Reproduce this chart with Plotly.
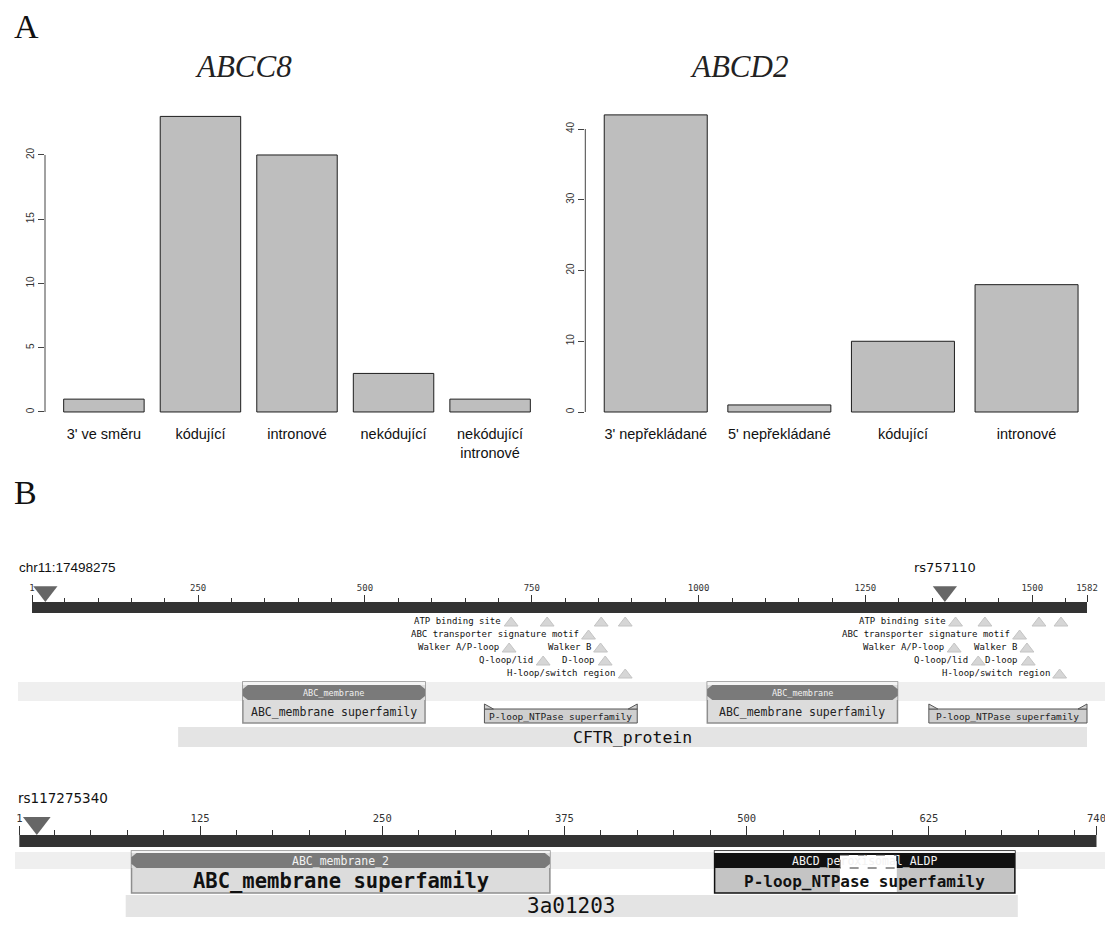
import plotly.graph_objects as go

W, H = 1105, 934

# ---------------- Panel A: SNP counts per functional class ----------------
abcc8_classes = ["3' ve směru", "kódující", "intronové", "nekódující", "nekódující<br>intronové"]
abcc8_counts = [1, 23, 20, 3, 1]
abcc8_yticks = [0, 5, 10, 15, 20]

abcd2_classes = ["3' nepřekládané", "5' nepřekládané", "kódující", "intronové"]
abcd2_counts = [42, 1, 10, 18]
abcd2_yticks = [0, 10, 20, 30, 40]

# ---------------- Panel B: conserved domains ----------------
# ABCC8 / CFTR-like protein, 1582 aa
cftr_length = 1582
cftr_major_ticks = [1, 250, 500, 750, 1000, 1250, 1500, 1582]
cftr_minor_ticks = [t for t in range(50, 1582, 50) if t % 250]
cftr_snp_labels = ["chr11:17498275", "rs757110"]
cftr_snp_pos = [21, 1369]

site_names = ["ATP binding site", "ABC transporter signature motif", "Walker A/P-loop",
              "Walker B", "Q-loop/lid", "D-loop", "H-loop/switch region"]
site_rows = [0, 1, 2, 2, 3, 3, 4]
nbd1_sites = [[719, 773, 854, 890], [835], [716], [853], [767], [860], [890]]
nbd2_sites = [[1385, 1429, 1510, 1543], [1481], [1383], [1492], [1419], [1494], [1541]]

cftr_specific = ["ABC_membrane", "ABC_membrane"]
cftr_specific_start = [317, 1013]
cftr_specific_end = [590, 1298]
cftr_specific_super = ["ABC_membrane superfamily", "ABC_membrane superfamily"]
cftr_ploop_label = "P-loop_NTPase superfamily"
cftr_ploop_start = [679, 1345]
cftr_ploop_end = [908, 1582]
cftr_multi = "CFTR_protein"
cftr_multi_start, cftr_multi_end = 220, 1582

# ABCD2, 740 aa
abcd_length = 740
abcd_major_ticks = [1, 125, 250, 375, 500, 625, 740]
abcd_minor_ticks = [t for t in range(25, 740, 25) if t % 125]
abcd_snp_label = "rs117275340"
abcd_snp_pos = 13
abcd_specific = ["ABC_membrane_2", "ABCD_peroxisomal_ALDP"]
abcd_specific_start = [78, 478]
abcd_specific_end = [365, 684]
abcd_specific_super = ["ABC_membrane superfamily", "P-loop_NTPase superfamily"]
abcd_gap = [564, 603]
abcd_multi = "3a01203"
abcd_multi_start, abcd_multi_end = 74, 686

SANS = "Liberation Sans, Arial, sans-serif"
SERIF = "Liberation Serif, Times New Roman, serif"
MONO = "DejaVu Sans Mono, monospace"

fig = go.Figure()
shapes, annots = [], []


def r_barplot_range(n):
    # barplot geometry: width 1, space 0.2, axis padded by 4 %
    lo, hi = -0.5 + 0.1 / 1.2, n - 0.5 - 0.1 / 1.2
    pad = 0.04 * (hi - lo)
    return [lo - pad, hi + pad]


def add_barplot(idx, classes, counts, yticks, xdom, ydom):
    xa, ya = ("x", "y") if idx == 1 else (f"x{idx}", f"y{idx}")
    fig.add_trace(go.Bar(x=classes, y=counts, xaxis=xa, yaxis=ya,
                         marker=dict(color="#bebebe", line=dict(color="#1e1e1e", width=1))))
    top = max(counts)
    key = "" if idx == 1 else str(idx)
    fig.layout["xaxis" + key] = dict(domain=xdom, anchor=ya, range=r_barplot_range(len(classes)),
                                     showgrid=False, zeroline=False, showline=False, ticks="",
                                     tickfont=dict(family=SANS, size=14.5, color="#111"),
                                     fixedrange=True)
    fig.layout["yaxis" + key] = dict(domain=ydom, anchor=xa, range=[-0.04 * top, 1.04 * top],
                                     tickvals=yticks, ticks="outside", ticklen=6, tickwidth=1,
                                     tickcolor="#444", tickangle=-90, showgrid=False,
                                     zeroline=False, showline=False,
                                     tickfont=dict(family=SANS, size=10, color="#333"))
    shapes.append(dict(type="line", xref=xa + " domain", yref=ya, x0=0, x1=0,
                       y0=yticks[0], y1=yticks[-1], line=dict(color="#444", width=1)))


add_barplot(1, abcc8_classes, abcc8_counts, abcc8_yticks,
            [45 / W, 549 / W], [1 - 423.8 / H, 1 - 104.6 / H])
add_barplot(2, abcd2_classes, abcd2_counts, abcd2_yticks,
            [585.3 / W, 1097 / W], [1 - 423.9 / H, 1 - 103 / H])

# panel letters and gene titles
annots += [
    dict(xref="paper", yref="paper", x=12 / W, y=1 - 27 / H, text="A", showarrow=False,
         xanchor="left", yanchor="middle", font=dict(family=SERIF, size=34, color="#111")),
    dict(xref="paper", yref="paper", x=12 / W, y=1 - 492 / H, text="B", showarrow=False,
         xanchor="left", yanchor="middle", font=dict(family=SERIF, size=34, color="#111")),
    dict(xref="paper", yref="paper", x=243 / W, y=1 - 67 / H, text="<i>ABCC8</i>",
         showarrow=False, xanchor="center", yanchor="middle",
         font=dict(family=SERIF, size=31, color="#222")),
    dict(xref="paper", yref="paper", x=739 / W, y=1 - 67 / H, text="<i>ABCD2</i>",
         showarrow=False, xanchor="center", yanchor="middle",
         font=dict(family=SERIF, size=31, color="#222")),
]


# ---------------- domain track helpers (y in page rows) ----------------
def ruler_range(first_px, last_px, length):
    k = (last_px - first_px) / (length - 1)
    return [1 - first_px / k, 1 + (W - first_px) / k]


def box(xr, x0, x1, y0, y1, fill, line=None, width=1.0, dash="solid"):
    shapes.append(dict(type="rect", xref=xr, yref="y3", x0=x0, x1=x1, y0=y0, y1=y1,
                       fillcolor=fill, layer="below",
                       line=dict(color=line or "rgba(0,0,0,0)", width=width if line else 0,
                                 dash=dash)))


def pix_path(xr, anchor, path, fill, line=None, width=1.0):
    shapes.append(dict(type="path", xref=xr, yref="y3", xsizemode="pixel", xanchor=anchor,
                       path=path, fillcolor=fill, layer="below",
                       line=dict(color=line or "rgba(0,0,0,0)", width=width if line else 0)))


def text(xr, x, y, s, size, color="#111", family=MONO, anchor="center", bold=False):
    annots.append(dict(xref=xr, yref="y3", x=x, y=y, text=f"<b>{s}</b>" if bold else s,
                       showarrow=False, xanchor=anchor, yanchor="middle",
                       font=dict(family=family, size=size, color=color)))


def rounded_ends(xr, s, e, y0, y1, bg):
    h = 4
    for a, sg in ((s, 1), (e, -1)):
        pix_path(xr, a, f"M0,{y0} L{5 * sg},{y0} L0,{y0 + h} Z", bg)
        pix_path(xr, a, f"M0,{y1} L{5 * sg},{y1} L0,{y1 - h} Z", bg)


# ---------------- track 1: CFTR-like protein ----------------
X1 = "x3"
T1 = dict(snp_label=567, bar=(602, 613), rows=[621, 634, 647, 660, 673], band=(682, 701),
          frame=(682, 723), spec=(685, 700), sup_y=712, spec_y=692.5,
          ploop=(709, 723), ploop_top=704, multi=(727, 747))

box(X1, 1, cftr_length, *T1["bar"], "#333333")
shapes.append(dict(type="rect", xref="paper", yref="y3", x0=18 / W, x1=1,
                   y0=T1["band"][0], y1=T1["band"][1], fillcolor="#efefef",
                   line=dict(width=0), layer="below"))

# SNP markers
fig.add_trace(go.Scatter(x=cftr_snp_pos, y=[T1["bar"][0] - 10.5] * 2, xaxis="x3", yaxis="y3",
                         mode="markers", hoverinfo="skip",
                         marker=dict(symbol="triangle-down", size=21, color="#666666",
                                     line=dict(width=0))))
for lab, pos in zip(cftr_snp_labels, cftr_snp_pos):
    if pos < 100:
        annots.append(dict(xref="paper", yref="y3", x=17 / W, y=T1["snp_label"], text=lab,
                           showarrow=False, xanchor="left", yanchor="middle",
                           font=dict(family=SANS, size=13.5, color="#111")))
    else:
        text(X1, pos, T1["snp_label"], lab, 13, "#111", "DejaVu Sans, sans-serif")

# site annotations
site_x, site_y = [], []
for group in (nbd1_sites, nbd2_sites):
    for name, row, pos in zip(site_names, site_rows, group):
        yrow = T1["rows"][row]
        annots.append(dict(xref=X1, yref="y3", x=pos[0], y=yrow, text=name, showarrow=False,
                           xanchor="right", yanchor="middle", xshift=-8,
                           font=dict(family=MONO, size=9, color="#111")))
        site_x += pos
        site_y += [yrow + 2] * len(pos)
fig.add_trace(go.Scatter(x=site_x, y=site_y, xaxis="x3", yaxis="y3", mode="markers",
                         hoverinfo="skip",
                         marker=dict(symbol="triangle-up", size=12, color="#d6d6d6",
                                     line=dict(width=1, color="#c4c4c4"))))

# specific hits with their superfamily boxes
for name, s, e, sup in zip(cftr_specific, cftr_specific_start, cftr_specific_end,
                           cftr_specific_super):
    box(X1, s, e, *T1["frame"], "#dcdcdc", "#8e8e8e", 1.5)
    box(X1, s, e, T1["frame"][0], T1["spec"][0], "#f4f4f4")
    box(X1, s, e, *T1["spec"], "#7a7a7a")
    rounded_ends(X1, s, e, *T1["spec"], "#dcdcdc")
    text(X1, (s + e) / 2, T1["spec_y"], name, 8.5, "#f0f0f0")
    text(X1, (s + e) / 2, T1["sup_y"], sup, 11.5, "#222")

# superfamily-only hits (truncated P-loop NTPase)
for s, e in zip(cftr_ploop_start, cftr_ploop_end):
    y0, y1 = T1["ploop"]
    box(X1, s, e, y0, y1, "#cfcfcf", "#555555", 1)
    pix_path(X1, s, f"M0,{y0} L0,{T1['ploop_top']} L9,{y0} Z", "#cfcfcf", "#555555")
    pix_path(X1, e, f"M0,{y0} L0,{T1['ploop_top']} L-9,{y0} Z", "#cfcfcf", "#555555")
    text(X1, (s + e) / 2, (y0 + y1) / 2 + 0.5, cftr_ploop_label, 9.5, "#222")

box(X1, cftr_multi_start, cftr_multi_end, *T1["multi"], "#e4e4e4")
text(X1, (cftr_multi_start + cftr_multi_end) / 2, sum(T1["multi"]) / 2, cftr_multi, 16.5, "#111")

# ---------------- track 2: ABCD2 ----------------
X2 = "x4"
T2 = dict(snp_label=798, bar=(835, 847), band=(852, 869), frame=(851, 893),
          spec=(853, 868), sup=(869, 893), multi=(895, 917))

box(X2, 1, abcd_length, *T2["bar"], "#333333")
shapes.append(dict(type="rect", xref="paper", yref="y3", x0=15 / W, x1=1,
                   y0=T2["band"][0], y1=T2["band"][1], fillcolor="#efefef",
                   line=dict(width=0), layer="below"))
fig.add_trace(go.Scatter(x=[abcd_snp_pos], y=[T2["bar"][0] - 12], xaxis="x4", yaxis="y3",
                         mode="markers", hoverinfo="skip",
                         marker=dict(symbol="triangle-down", size=24, color="#666666",
                                     line=dict(width=0))))
annots.append(dict(xref="paper", yref="y3", x=16 / W, y=T2["snp_label"], text=abcd_snp_label,
                   showarrow=False, xanchor="left", yanchor="middle",
                   font=dict(family="DejaVu Sans, sans-serif", size=13.5, color="#111")))

spec_fill = ["#7a7a7a", "#111111"]
sup_fill = ["#dcdcdc", "#c4c4c4"]
frame_col = ["#8e8e8e", "#111111"]
for i, (name, s, e, sup) in enumerate(zip(abcd_specific, abcd_specific_start,
                                          abcd_specific_end, abcd_specific_super)):
    box(X2, s, e, *T2["frame"], sup_fill[i], frame_col[i], 1.5)
    box(X2, s, e, T2["frame"][0], T2["spec"][0], "#f4f4f4")
    box(X2, s, e, *T2["spec"], spec_fill[i])
    if i == 0:
        rounded_ends(X2, s, e, *T2["spec"], sup_fill[i])
    else:
        # unaligned stretch inside the ABCD hit
        box(X2, abcd_gap[0], abcd_gap[1], T2["spec"][1], T2["sup"][1] - 1, "#ffffff")
        box(X2, abcd_gap[0], abcd_gap[1], T2["spec"][0] + 2, T2["spec"][1], "#ffffff",
            "#333333", 1, "dash")
    text(X2, (s + e) / 2, sum(T2["spec"]) / 2, name, 11.5, "#f2f2f2")
    text(X2, (s + e) / 2, sum(T2["sup"]) / 2, sup, 20.5 if i == 0 else 16, "#111", bold=True)

box(X2, abcd_multi_start, abcd_multi_end, *T2["multi"], "#e4e4e4")
text(X2, (abcd_multi_start + abcd_multi_end) / 2, sum(T2["multi"]) / 2, abcd_multi, 21, "#111")

# ---------------- axes for the domain tracks ----------------
ruler_common = dict(showgrid=False, zeroline=False, showline=False, side="top",
                    ticks="outside", tickcolor="#333", tickwidth=1, tickangle=0,
                    anchor="free", domain=[0, 1], fixedrange=True,
                    ticklabeloverflow="allow")
fig.update_layout(
    xaxis3=dict(**ruler_common, range=ruler_range(32, 1087, cftr_length),
                position=1 - T1["bar"][0] / H, tickvals=cftr_major_ticks,
                ticktext=[str(t) for t in cftr_major_ticks], ticklen=7,
                tickfont=dict(family=MONO, size=9, color="#333"),
                minor=dict(tickmode="array", tickvals=cftr_minor_ticks, ticks="outside",
                           ticklen=4, tickcolor="#333", tickwidth=1)),
    xaxis4=dict(**ruler_common, range=ruler_range(19.3, 1096.5, abcd_length),
                position=1 - T2["bar"][0] / H, overlaying="x3", tickvals=abcd_major_ticks,
                ticktext=[str(t) for t in abcd_major_ticks], ticklen=9,
                tickfont=dict(family=MONO, size=10.5, color="#333"),
                minor=dict(tickmode="array", tickvals=abcd_minor_ticks, ticks="outside",
                           ticklen=5, tickcolor="#333", tickwidth=1)),
    yaxis3=dict(domain=[0, 1], range=[H, 0], anchor="x3", visible=False, fixedrange=True),
)

fig.update_layout(
    width=W, height=H, margin=dict(l=0, r=0, t=0, b=0),
    paper_bgcolor="white", plot_bgcolor="rgba(0,0,0,0)",
    showlegend=False, bargap=1 / 6,
    shapes=shapes, annotations=annots,
)

fig.write_html("out.html")
